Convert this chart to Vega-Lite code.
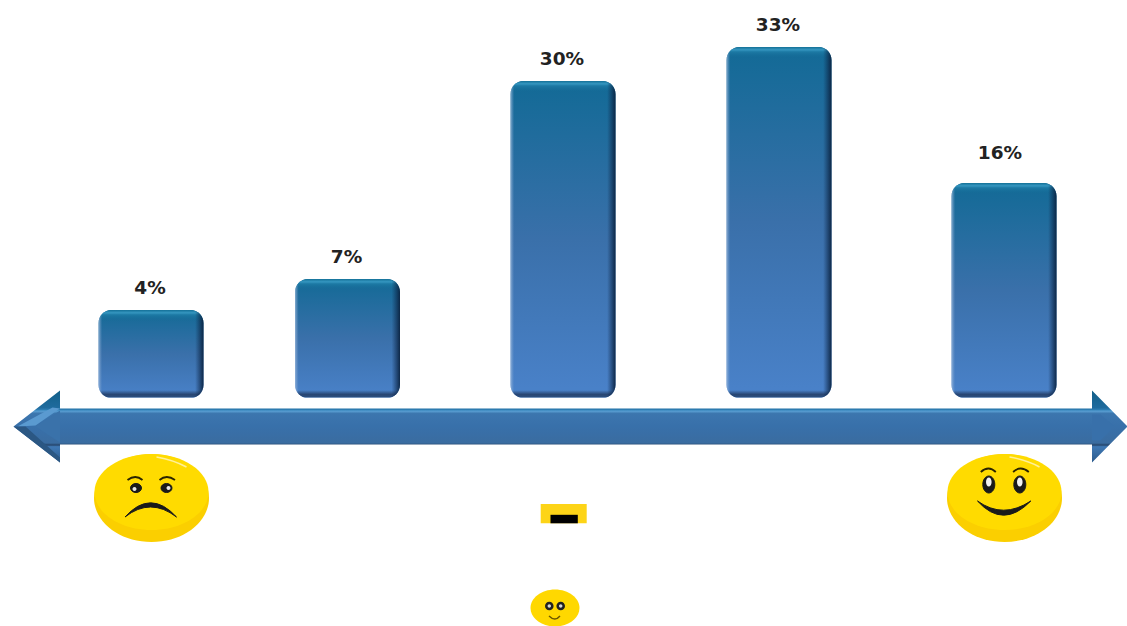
{
"$schema":"https://vega.github.io/schema/vega-lite/v6.json",
"width":1127,"height":626,"padding":0,"autosize":{"type":"none"},"background":"#ffffff",
"config":{"view":{"stroke":null}},
"datasets":{
"bars":[{"score":1,"share":4,"label":"4%"},{"score":2,"share":7,"label":"7%"},{"score":3,"share":30,"label":"30%"},{"score":4,"share":33,"label":"33%"},{"score":5,"share":16,"label":"16%"}],
"faces":[{"score":1,"share":0,"mood":"sad"},{"score":5,"share":0,"mood":"happy"},{"score":3,"share":0,"mood":"neutral"}]
},
"data":{"name":"bars"},
"encoding":{
"x":{"field":"score","type":"quantitative","axis":null,"scale":{"domain":[1,2,3,4,5],"range":[151,347.5,563,779,1004],"nice":false,"zero":false,"padding":0}},
"y":{"field":"share","type":"quantitative","axis":null,"scale":{"domain":[0,4,7,16,30,33],"range":[398,310,279,183,81,47],"nice":false,"zero":false}}
},
"layer":[
{"mark":{"type":"bar","orient":"vertical","size":105,"cornerRadius":13,"color":{"gradient":"linear","x1":0,"y1":0,"x2":0,"y2":1,"stops":[{"offset":0,"color":"#126a96"},{"offset":0.5,"color":"#3a70aa"},{"offset":1,"color":"#4a82ca"}]}},"encoding":{"y2":{"datum":0}}},
{"mark":{"type":"bar","orient":"vertical","size":105,"cornerRadius":13,"y2Offset":28,"color":{"gradient":"linear","x1":0,"y1":0,"x2":0,"y2":1,"stops":[{"offset":0,"color":"#137097"},{"offset":0.1,"color":"#3596c0"},{"offset":0.17,"color":"#1d7aa5"},{"offset":0.4,"color":"rgba(20,106,150,0)"},{"offset":1,"color":"rgba(20,106,150,0)"}]}},"encoding":{"y2":{"field":"share"}}},
{"mark":{"type":"bar","orient":"vertical","size":105,"cornerRadius":13,"yOffset":-28,"y2Offset":0,"color":{"gradient":"linear","x1":0,"y1":0,"x2":0,"y2":1,"stops":[{"offset":0,"color":"rgba(35,60,100,0)"},{"offset":0.72,"color":"rgba(35,60,100,0)"},{"offset":0.87,"color":"rgba(35,60,100,0.85)"},{"offset":0.95,"color":"#2b4d7c"},{"offset":1,"color":"#9db8dc"}]}},"encoding":{"y":{"datum":0},"y2":{"datum":0}}},
{"mark":{"type":"bar","orient":"vertical","size":105,"cornerRadius":13,"color":{"gradient":"linear","x1":0,"y1":0,"x2":1,"y2":0,"stops":[{"offset":0,"color":"rgba(170,195,225,0.75)"},{"offset":0.035,"color":"rgba(120,160,205,0)"},{"offset":0.92,"color":"rgba(15,40,75,0)"},{"offset":1,"color":"rgba(10,35,65,0.95)"}]}},"encoding":{"y2":{"datum":0}}},
{"transform":[{"filter":"datum.share!=16"}],"mark":{"type":"text","font":"DejaVu Sans","fontWeight":"bold","fontSize":18.5,"color":"#222222","baseline":"middle","dy":-22,"dx":-1},"encoding":{"text":{"field":"label"}}},
{"transform":[{"filter":"datum.share==16"}],"mark":{"type":"text","font":"DejaVu Sans","fontWeight":"bold","fontSize":18.5,"color":"#222222","baseline":"middle","dy":-30,"dx":-4},"encoding":{"text":{"field":"label"}}},

{"data":{"name":"faces"},"transform":[{"filter":"datum.mood=='neutral'"}],"mark":{"type":"point","opacity":1,"filled":true,"size":4,"xOffset":7.5,"yOffset":28.5,"shape":"M-557 0L-510.5 -36L-510.5 -18L521.5 -18L521.5 -36L557 0L521.5 36L521.5 18L-510.5 18L-510.5 36Z","color":{"gradient":"linear","x1":0,"y1":0,"x2":0,"y2":1,"stops":[{"offset":0,"color":"#125f88"},{"offset":0.24,"color":"#1f6b9e"},{"offset":0.27,"color":"#2f7fb5"},{"offset":0.285,"color":"#5aa0d4"},{"offset":0.32,"color":"#3c76ae"},{"offset":0.5,"color":"#3870aa"},{"offset":0.73,"color":"#3a6ca0"},{"offset":0.757,"color":"#26466c"},{"offset":0.78,"color":"#3f78b4"},{"offset":1,"color":"#2a5a8c"}]}}},
{"data":{"name":"faces"},"transform":[{"filter":"datum.mood=='neutral'"}],"mark":{"type":"point","opacity":1,"filled":true,"size":4,"xOffset":7.5,"yOffset":28.5,"color":"#5a9ad0","shape":"M-553 0L-518 -19L-510.5 -18L-535 -1Z"}},
{"data":{"name":"faces"},"transform":[{"filter":"datum.mood=='neutral'"}],"mark":{"type":"point","opacity":1,"filled":true,"size":4,"xOffset":7.5,"yOffset":28.5,"color":"#3a72aa","shape":"M-535 0L-510.5 -16L-510.5 16Z"}},
{"data":{"name":"faces"},"transform":[{"filter":"datum.mood=='neutral'"}],"mark":{"type":"point","opacity":1,"filled":true,"size":4,"xOffset":7.5,"yOffset":28.5,"color":"#2b5783","shape":"M-557 0L-510.5 36L-510.5 31L-545 0Z"}},
{"data":{"name":"faces"},"transform":[{"filter":"datum.mood=='neutral'"}],"mark":{"type":"point","opacity":1,"filled":true,"size":4,"xOffset":7.5,"yOffset":28.5,"color":"#3870aa","shape":"M521.5 -12L521.5 14L530 14L544 0L530 -12Z"}},

{"data":{"name":"faces"},"transform":[{"filter":"datum.mood!='neutral'"}],"mark":{"type":"point","opacity":1,"filled":true,"size":4,"xOffset":0.5,"yOffset":100,"color":"#fbcf00","shape":"M-57.5 0A57.5 44 0 1 1 57.5 0A57.5 44 0 1 1 -57.5 0Z"}},
{"data":{"name":"faces"},"transform":[{"filter":"datum.mood!='neutral'"}],"mark":{"type":"point","opacity":1,"filled":true,"size":4,"xOffset":0.5,"yOffset":100,"color":"#ffdb00","shape":"M-57 -6A57 38 0 1 1 57 -6A57 38 0 1 1 -57 -6Z"}},
{"data":{"name":"faces"},"transform":[{"filter":"datum.mood!='neutral'"}],"mark":{"type":"point","opacity":1,"filled":false,"size":4,"xOffset":0.5,"yOffset":100,"stroke":"#fff09a","strokeWidth":1.5,"shape":"M5 -41Q22 -38 35 -31"}},

{"data":{"name":"faces"},"transform":[{"filter":"datum.mood=='sad'"}],"mark":{"type":"point","opacity":1,"filled":true,"size":4,"xOffset":0.5,"yOffset":100,"color":"#1a1a1a","stroke":"#1a1a1a","strokeWidth":1,"shape":"M-21 -10A5.5 4.5 0 1 1 -10 -10A5.5 4.5 0 1 1 -21 -10ZM9.5 -10A5.5 4.5 0 1 1 20.5 -10A5.5 4.5 0 1 1 9.5 -10ZM-26.5 19Q-1 -9.4 25 19Q-1 -1 -26.5 19Z"}},
{"data":{"name":"faces"},"transform":[{"filter":"datum.mood=='sad'"}],"mark":{"type":"point","opacity":1,"filled":true,"size":4,"xOffset":0.5,"yOffset":100,"color":"#e8e8e8","shape":"M-19 -9A2 2 0 1 1 -15 -9A2 2 0 1 1 -19 -9ZM15 -10A2 2 0 1 1 19 -10A2 2 0 1 1 15 -10Z"}},
{"data":{"name":"faces"},"transform":[{"filter":"datum.mood=='sad'"}],"mark":{"type":"point","opacity":1,"filled":false,"size":4,"xOffset":0.5,"yOffset":100,"stroke":"#2a2400","strokeWidth":1.8,"shape":"M-24 -18Q-16 -24 -9 -18M8 -18Q15 -24 23.5 -18"}},

{"data":{"name":"faces"},"transform":[{"filter":"datum.mood=='happy'"}],"mark":{"type":"point","opacity":1,"filled":true,"size":4,"xOffset":0.5,"yOffset":100,"color":"#1a1a1a","stroke":"#1a1a1a","strokeWidth":1,"shape":"M-21.7 -13.5A6 8.5 0 1 1 -9.7 -13.5A6 8.5 0 1 1 -21.7 -13.5ZM9.3 -13.5A6 8.5 0 1 1 21.3 -13.5A6 8.5 0 1 1 9.3 -13.5ZM-27 3Q-1.4 31.4 26.3 3Q-1.4 21.4 -27 3Z"}},
{"data":{"name":"faces"},"transform":[{"filter":"datum.mood=='happy'"}],"mark":{"type":"point","opacity":1,"filled":true,"size":4,"xOffset":0.5,"yOffset":100,"color":"#f2f2f2","shape":"M-18.5 -16A2.8 4.5 0 1 1 -12.9 -16A2.8 4.5 0 1 1 -18.5 -16ZM12.5 -16A2.8 4.5 0 1 1 18.1 -16A2.8 4.5 0 1 1 12.5 -16Z"}},
{"data":{"name":"faces"},"transform":[{"filter":"datum.mood=='happy'"}],"mark":{"type":"point","opacity":1,"filled":false,"size":4,"xOffset":0.5,"yOffset":100,"stroke":"#2a2400","strokeWidth":1.8,"shape":"M-23.7 -26Q-16 -33 -8.7 -26M8.6 -26Q16 -33 24.3 -26"}},

{"data":{"name":"faces"},"transform":[{"filter":"datum.mood=='neutral'"}],"mark":{"type":"point","opacity":1,"filled":true,"size":4,"yOffset":116,"color":"#fdd417","shape":"M-22.3 -10H23.7V9.3H-22.3Z"}},
{"data":{"name":"faces"},"transform":[{"filter":"datum.mood=='neutral'"}],"mark":{"type":"point","opacity":1,"filled":true,"size":4,"yOffset":116,"color":"#000000","shape":"M-12.5 0.8H14.8V9.3H-12.5Z"}},
{"data":{"name":"faces"},"transform":[{"filter":"datum.mood=='neutral'"}],"mark":{"type":"point","opacity":1,"filled":true,"size":4,"xOffset":-8,"yOffset":210,"color":"#ffd800","shape":"M-24.5 0A24.5 18.5 0 1 1 24.5 0A24.5 18.5 0 1 1 -24.5 0Z"}},
{"data":{"name":"faces"},"transform":[{"filter":"datum.mood=='neutral'"}],"mark":{"type":"point","opacity":1,"filled":true,"size":4,"xOffset":-8,"yOffset":210,"color":"#222222","shape":"M-10 -2A4.3 4.3 0 1 1 -1.4 -2A4.3 4.3 0 1 1 -10 -2ZM1.4 -2A4.3 4.3 0 1 1 10 -2A4.3 4.3 0 1 1 1.4 -2Z"}},
{"data":{"name":"faces"},"transform":[{"filter":"datum.mood=='neutral'"}],"mark":{"type":"point","opacity":1,"filled":true,"size":4,"xOffset":-8,"yOffset":210,"color":"#d8d8d8","shape":"M-7.4 -2A1.7 1.7 0 1 1 -4 -2A1.7 1.7 0 1 1 -7.4 -2ZM4 -2A1.7 1.7 0 1 1 7.4 -2A1.7 1.7 0 1 1 4 -2Z"}},
{"data":{"name":"faces"},"transform":[{"filter":"datum.mood=='neutral'"}],"mark":{"type":"point","opacity":1,"filled":false,"size":4,"xOffset":-8,"yOffset":210,"stroke":"#6a5600","strokeWidth":1.4,"shape":"M-6 8Q0 14 5 8"}}
]
}
